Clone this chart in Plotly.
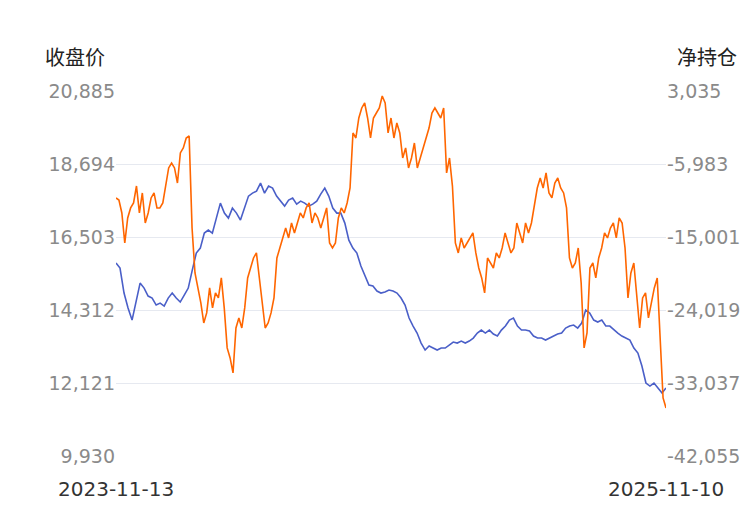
import plotly.graph_objects as go
import pandas as pd

close_price = [15720,15570,14820,14370,14010,14520,15120,14970,14730,14670,14460,14520,14430,14670,14820,14670,14550,14760,14970,15510,16020,16170,16620,16710,16620,17070,17520,17220,17070,17370,17220,17010,17370,17730,17820,17880,18120,17820,18030,17970,17730,17580,17430,17610,17670,17490,17580,17520,17430,17490,17580,17790,17970,17730,17370,17220,17220,16920,16410,16170,16020,15630,15330,15060,15030,14880,14820,14850,14910,14880,14820,14670,14460,14070,13830,13620,13320,13110,13230,13170,13110,13170,13170,13260,13350,13320,13380,13320,13380,13470,13620,13710,13620,13710,13590,13530,13710,13830,14010,14070,13830,13710,13710,13680,13530,13470,13470,13410,13470,13530,13590,13620,13770,13830,13860,13770,13920,14310,14220,14010,13950,14010,13830,13830,13710,13620,13530,13470,13410,13170,13020,12630,12120,12030,12120,11970,11820,11970]

net_position = [-10180,-10430,-12030,-15740,-12650,-11410,-10800,-8700,-12030,-9560,-13270,-12030,-10180,-9560,-11410,-11410,-10800,-8330,-6470,-5860,-6470,-8330,-4620,-4000,-2770,-2520,-13890,-19440,-21290,-23150,-25620,-24380,-21290,-23760,-21910,-22530,-20060,-23760,-28700,-29940,-31790,-26240,-25000,-26240,-23760,-20060,-18830,-17590,-16970,-20060,-23760,-26240,-25620,-24380,-22530,-17590,-16360,-15120,-13890,-15120,-13270,-14500,-13270,-12030,-12650,-11410,-10800,-13270,-12030,-12650,-13890,-12650,-11410,-15740,-16360,-15740,-12650,-11410,-12030,-10800,-8950,-2150,-2770,-300,940,1550,-300,-2770,-300,320,940,2420,1550,-2150,-300,-2770,-920,-2150,-5240,-4000,-6470,-5240,-3390,-6470,-5240,-4000,-2770,-1540,320,940,320,-300,940,-7090,-5240,-8710,-15740,-16970,-15120,-16360,-15740,-15120,-14500,-16970,-18830,-20060,-21910,-17590,-18210,-18830,-16970,-17590,-16360,-14500,-15740,-16970,-16360,-13270,-14500,-15740,-13270,-14500,-13270,-10800,-8950,-7710,-8950,-7090,-9560,-10180,-8330,-7710,-8950,-9560,-11410,-17590,-18830,-18210,-16360,-20680,-28700,-26850,-18830,-18210,-20060,-17590,-16360,-14500,-15120,-13890,-13270,-15120,-12650,-13270,-16360,-22530,-19440,-18210,-21910,-26240,-22530,-21910,-25000,-23150,-21290,-20060,-27470,-34880,-36120]

start_date, end_date = "2023-11-13", "2025-11-10"
left_ticks = [9930, 12121, 14312, 16503, 18694, 20885]
right_ticks = [-42055, -33037, -24019, -15001, -5983, 3035]

d1 = pd.date_range(start_date, end_date, periods=len(close_price))
d2 = pd.date_range(start_date, end_date, periods=len(net_position))

fig = go.Figure()
fig.add_trace(go.Scatter(x=d1, y=close_price, mode="lines", name="收盘价",
                         line=dict(color="#4a5fc8", width=1.6)))
fig.add_trace(go.Scatter(x=d2, y=net_position, mode="lines", name="净持仓", yaxis="y2",
                         line=dict(color="#ff6600", width=1.6)))

tickfont = dict(family="DejaVu Sans", size=19, color="#8a8a8a")
L, R, T, B = 108, 92, 83, 62
fig.update_layout(
    width=750, height=510, showlegend=False,
    paper_bgcolor="white", plot_bgcolor="white",
    margin=dict(l=L, r=R, t=T, b=B),
    xaxis=dict(range=[d1[0], d1[-1]], showticklabels=False, showgrid=False,
               zeroline=False, automargin=False),
    yaxis=dict(range=[left_ticks[0], left_ticks[-1]], tickvals=left_ticks,
               ticktext=[f"{v:,}" for v in left_ticks], tickfont=tickfont,
               gridcolor="#e6e9f0", zeroline=False, ticks="", automargin=False),
    yaxis2=dict(range=[right_ticks[0], right_ticks[-1]], tickvals=right_ticks,
                ticktext=[f"{v:,}" for v in right_ticks], tickfont=tickfont,
                overlaying="y", side="right", showgrid=False, zeroline=False,
                automargin=False),
)
pw, ph = 750 - L - R, 510 - T - B
labels = [("收盘价", 67, 48, "Noto Sans CJK SC", "#222"),
          ("净持仓", 699, 48, "Noto Sans CJK SC", "#222"),
          ("2023-11-13", 108, 481, "DejaVu Sans", "#333"),
          ("2025-11-10", 658, 481, "DejaVu Sans", "#333")]
for text, px, py, fam, col in labels:
    fig.add_annotation(text=text, x=(px - L) / pw, y=1 - (py - T) / ph,
                       xref="paper", yref="paper", showarrow=False,
                       xanchor="center", yanchor="middle",
                       font=dict(family=fam, size=20, color=col))
fig.write_html("out.html")
